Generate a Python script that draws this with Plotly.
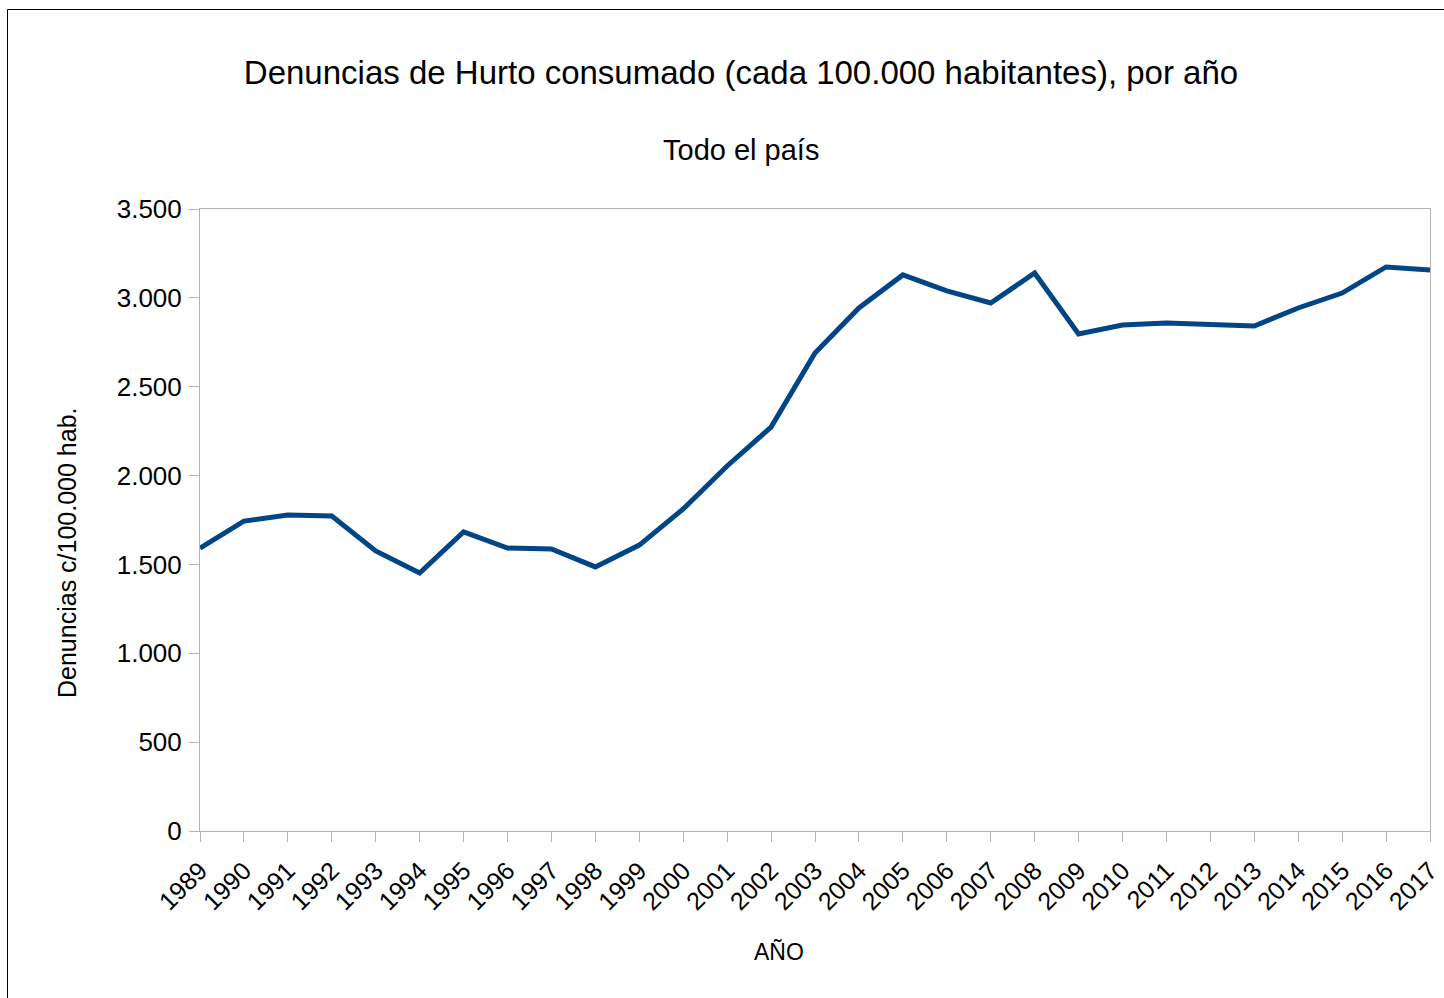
import plotly.graph_objects as go

# Denuncias de hurto consumado cada 100.000 habitantes, todo el pais
years = list(range(1989, 2018))
rates = [1592, 1744, 1778, 1772, 1576, 1452, 1683, 1592, 1587, 1486,
         1609, 1812, 2054, 2273, 2690, 2943, 3129, 3039, 2971, 3140,
         2797, 2847, 2859, 2853, 2842, 2943, 3027, 3174, 3157]
y_ticks = [0, 500, 1000, 1500, 2000, 2500, 3000, 3500]

font_name = "Liberation Sans, Arial, sans-serif"
axis_gray = "#b3b3b3"

fig = go.Figure()
fig.add_trace(go.Scatter(x=years, y=rates, mode="lines",
                         line=dict(color="#004586", width=5),
                         hovertemplate="%{x}: %{y}<extra></extra>"))

fig.update_layout(
    width=1444, height=998,
    margin=dict(l=200, r=14, t=209, b=167, autoexpand=False),
    paper_bgcolor="white", plot_bgcolor="white",
    font=dict(family=font_name, color="black"),
    separators=",.",
    showlegend=False,
    title=dict(text="Denuncias de Hurto consumado (cada 100.000 habitantes), por año",
               x=741 / 1444, xanchor="center", y=1 - 72 / 998, yanchor="middle",
               font=dict(size=33, family=font_name, color="black")),
)

# subtitle
fig.add_annotation(text="Todo el país", xref="paper", yref="paper",
                   x=(741 - 200) / 1230, y=1 + (209 - 150) / 622,
                   xanchor="center", yanchor="middle", showarrow=False,
                   font=dict(size=29, family=font_name, color="black"))

# axis titles (placed like the original, not centred on the plot)
fig.add_annotation(text="Denuncias c/100.000 hab.", xref="paper", yref="paper",
                   x=(67 - 200) / 1230, y=(831 - 553) / 622, textangle=-90,
                   xanchor="center", yanchor="middle", showarrow=False,
                   font=dict(size=25, family=font_name, color="black"))
fig.add_annotation(text="AÑO", xref="paper", yref="paper",
                   x=(779 - 200) / 1230, y=(831 - 952) / 622,
                   xanchor="center", yanchor="middle", showarrow=False,
                   font=dict(size=23, family=font_name, color="black"))

# thin frame around the chart (cut off at right and bottom)
fig.add_shape(type="rect", xref="paper", yref="paper",
              x0=(7.5 - 200) / 1230, y0=-0.5, x1=1.1, y1=1 + (209 - 9.5) / 622,
              line=dict(color="black", width=1), layer="below")

fig.update_xaxes(
    range=[1989, 2017], tickmode="array", tickvals=years,
    ticktext=[str(y) for y in years], tickangle=-45,
    tickfont=dict(size=25), ticks="outside", ticklen=10, tickcolor=axis_gray,
    ticklabelstandoff=4, automargin=False,
    showline=True, linecolor=axis_gray, linewidth=1, mirror=True,
    showgrid=False, zeroline=False,
)
fig.update_yaxes(
    range=[0, 3500], tickmode="array", tickvals=y_ticks, tickformat=",d",
    tickfont=dict(size=26), ticks="outside", ticklen=10, tickcolor=axis_gray,
    ticklabelstandoff=2, automargin=False,
    showline=True, linecolor=axis_gray, linewidth=1, mirror=True,
    showgrid=False, zeroline=False,
)

fig.write_html("out.html", config={"displayModeBar": False},
               post_script="document.body.style.margin='0';"
                           "document.body.style.overflow='hidden';")
